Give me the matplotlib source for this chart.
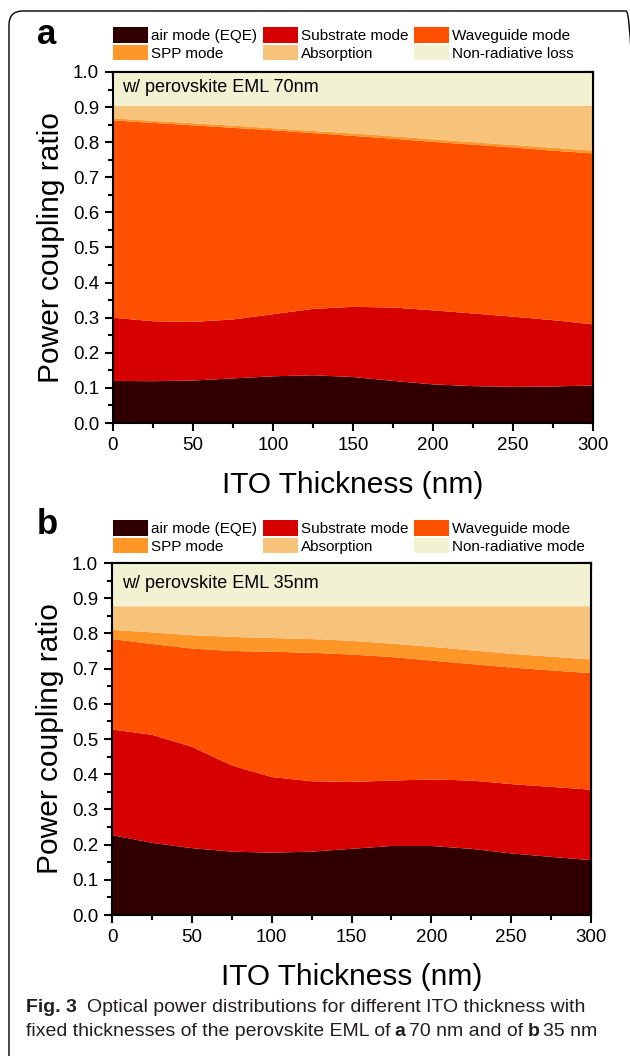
import matplotlib
matplotlib.use('Agg')
import matplotlib.pyplot as plt
from matplotlib.patches import FancyBboxPatch, Patch
from matplotlib.ticker import MultipleLocator, FormatStrFormatter, NullFormatter

# ---------------- data ----------------
ito_thickness = [0, 25, 50, 75, 100, 125, 150, 175, 200, 225, 250, 275, 300]

# panel a: perovskite EML 70 nm (fraction of each mode)
air_a = [0.120, 0.119, 0.121, 0.127, 0.133, 0.136, 0.131, 0.120, 0.110, 0.105, 0.103, 0.104, 0.107]
substrate_a = [0.180, 0.171, 0.167, 0.168, 0.177, 0.189, 0.200, 0.209, 0.211, 0.207, 0.200, 0.189, 0.174]
waveguide_a = [0.562, 0.565, 0.560, 0.546, 0.524, 0.501, 0.487, 0.481, 0.480, 0.481, 0.482, 0.483, 0.487]
spp_a = [0.006, 0.006, 0.006, 0.006, 0.006, 0.006, 0.007, 0.007, 0.007, 0.007, 0.007, 0.008, 0.008]
absorption_a = [0.035, 0.042, 0.049, 0.056, 0.063, 0.071, 0.078, 0.086, 0.095, 0.103, 0.111, 0.119, 0.127]
nonrad_a = [0.097] * 13

# panel b: perovskite EML 35 nm
air_b = [0.227, 0.205, 0.190, 0.180, 0.177, 0.180, 0.188, 0.196, 0.196, 0.188, 0.175, 0.165, 0.156]
substrate_b = [0.300, 0.307, 0.288, 0.245, 0.215, 0.200, 0.190, 0.186, 0.189, 0.194, 0.197, 0.199, 0.200]
waveguide_b = [0.257, 0.258, 0.279, 0.325, 0.356, 0.365, 0.362, 0.351, 0.338, 0.331, 0.331, 0.331, 0.331]
spp_b = [0.026, 0.033, 0.038, 0.040, 0.039, 0.039, 0.039, 0.038, 0.039, 0.039, 0.039, 0.039, 0.039]
absorption_b = [0.067, 0.074, 0.082, 0.087, 0.090, 0.093, 0.098, 0.106, 0.115, 0.125, 0.135, 0.143, 0.151]
nonrad_b = [0.123] * 13

labels_a = ["air mode (EQE)", "Substrate mode", "Waveguide mode",
            "SPP mode", "Absorption", "Non-radiative loss"]
labels_b = ["air mode (EQE)", "Substrate mode", "Waveguide mode",
            "SPP mode", "Absorption", "Non-radiative mode"]
colors = ["#300000", "#D60000", "#FF5000", "#FF9628", "#F7C37B", "#F2F2D3"]

notes = ["w/ perovskite EML 70nm", "w/ perovskite EML 35nm"]
panel_letters = ["a", "b"]
xlabel = "ITO Thickness (nm)"
ylabel = "Power coupling ratio"

# ---------------- figure ----------------
plt.rcParams['font.family'] = ['Liberation Sans', 'DejaVu Sans']
W, H = 630, 1056
fig = plt.figure(figsize=(W / 100, H / 100), dpi=100)
fig.patch.set_facecolor('white')


def fx(x):
    return x / W


def fy(y):
    return 1 - y / H


# rounded border box
box = FancyBboxPatch((fx(9), fy(1070)), fx(640) - fx(9), fy(11) - fy(1070),
                     boxstyle="round,pad=0,rounding_size=0.022",
                     transform=fig.transFigure, fill=False, edgecolor='black',
                     linewidth=1.0, clip_on=False, mutation_aspect=W / H)
fig.patches.append(box)


def make_panel(rect_px, series, labels, note, note_y, letter, letter_y, leg_top):
    l, t, r, b = rect_px
    ax = fig.add_axes([fx(l), fy(b), fx(r) - fx(l), fy(t) - fy(b)])
    ax.stackplot(ito_thickness, *series, colors=colors, linewidth=0)
    ax.set_xlim(0, 300)
    ax.set_ylim(0, 1.0)
    ax.xaxis.set_major_locator(MultipleLocator(50))
    ax.xaxis.set_minor_locator(MultipleLocator(25))
    ax.yaxis.set_major_locator(MultipleLocator(0.1))
    ax.yaxis.set_minor_locator(MultipleLocator(0.05))
    ax.yaxis.set_major_formatter(FormatStrFormatter('%.1f'))
    ax.tick_params(which='both', direction='out', width=1.5, labelsize=13.5,
                   top=False, right=False, pad=4)
    ax.tick_params(which='major', length=6)
    ax.tick_params(which='minor', length=3.5)
    for s in ax.spines.values():
        s.set_linewidth(1.5)
    ax.set_ylabel(ylabel, fontsize=21.5, labelpad=6)
    ax.set_xlabel(xlabel, fontsize=21.5, labelpad=12)

    secx = ax.secondary_xaxis('top')
    secx.xaxis.set_major_locator(MultipleLocator(50))
    secx.xaxis.set_minor_locator(MultipleLocator(25))
    secx.xaxis.set_major_formatter(NullFormatter())
    secx.tick_params(which='both', direction='in', width=1.5)
    secx.tick_params(which='major', length=6)
    secx.tick_params(which='minor', length=3.5)
    secx.spines['top'].set_linewidth(1.5)

    secy = ax.secondary_yaxis('right')
    secy.yaxis.set_major_locator(MultipleLocator(0.1))
    secy.yaxis.set_minor_locator(MultipleLocator(0.05))
    secy.yaxis.set_major_formatter(NullFormatter())
    secy.tick_params(which='both', direction='in', width=1.5)
    secy.tick_params(which='major', length=6)
    secy.tick_params(which='minor', length=4)
    secy.spines['right'].set_linewidth(1.5)

    fig.text(fx(122), fy(note_y), note, fontsize=13, va='center', ha='left')
    fig.text(fx(37), fy(letter_y), letter, fontsize=25, fontweight='bold',
             va='center', ha='left')

    handles = [Patch(facecolor=c, edgecolor='none') for c in colors]
    order = [0, 3, 1, 4, 2, 5]
    fig.legend([handles[i] for i in order], [labels[i] for i in order],
               ncol=3, loc='upper left', bbox_to_anchor=(fx(113), fy(leg_top)),
               frameon=False, fontsize=11, handlelength=2.3, handleheight=1.2,
               handletextpad=0.2, labelspacing=0.12, columnspacing=0.35,
               borderpad=0, borderaxespad=0)
    return ax


ax_a = make_panel((113, 72, 593, 423),
                  [air_a, substrate_a, waveguide_a, spp_a, absorption_a, nonrad_a],
                  labels_a, notes[0], 87, panel_letters[0], 34, 27)
ax_b = make_panel((112, 563, 591, 915),
                  [air_b, substrate_b, waveguide_b, spp_b, absorption_b, nonrad_b],
                  labels_b, notes[1], 583, panel_letters[1], 524, 520)

# ---------------- caption ----------------
cap_font = ['Liberation Sans Narrow', 'Liberation Sans', 'DejaVu Sans']
renderer = fig.canvas.get_renderer()


def rich_line(x, y, pieces, size):
    for txt, weight, gap in pieces:
        t = fig.text(fx(x), fy(y), txt, fontsize=size, fontweight=weight,
                     family=cap_font, va='center', ha='left', color='#231f20')
        bb = t.get_window_extent(renderer)
        x += bb.width + gap


cap_size = 14
rich_line(26, 1007, [("Fig. 3", 'bold', 10),
                     ("Optical power distributions for different ITO thickness with", 'normal', 0)],
          cap_size)
rich_line(26, 1031, [("fixed thicknesses of the perovskite EML of", 'normal', 4),
                     ("a", 'bold', 4),
                     ("70 nm and of", 'normal', 4),
                     ("b", 'bold', 4),
                     ("35 nm", 'normal', 0)],
          cap_size)

fig.savefig('out.png', dpi=100)
